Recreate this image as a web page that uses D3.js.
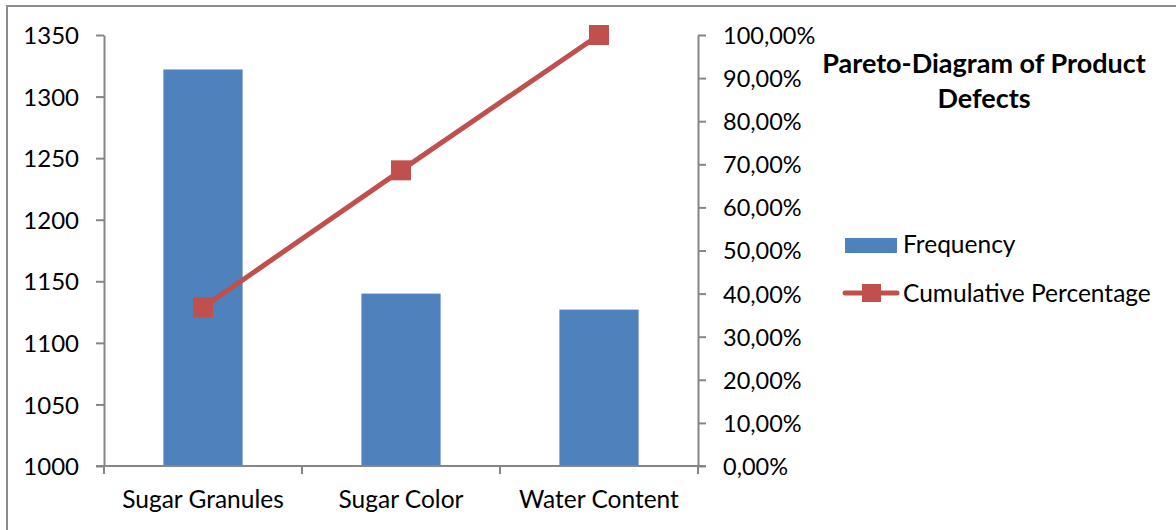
<!DOCTYPE html>
<html>
<head>
<meta charset="utf-8">
<script src="https://cdn.jsdelivr.net/npm/d3@7"></script>
<style>
  html, body { margin: 0; padding: 0; background: #fff; }
  svg { display: block; }
  text { font-family: Lato, "Open Sans", sans-serif; fill: #000; }
</style>
</head>
<body>
<svg id="chart" width="1176" height="530"></svg>
<script>
const categories = ["Sugar Granules", "Sugar Color", "Water Content"];
const frequency = [1322, 1140, 1127];
const cumulative = [0.368, 0.686, 1.0];
const leftTicks = [1000, 1050, 1100, 1150, 1200, 1250, 1300, 1350];
const rightTicks = [0, 0.1, 0.2, 0.3, 0.4, 0.5, 0.6, 0.7, 0.8, 0.9, 1.0];
const titleLines = ["Pareto-Diagram of Product", "Defects"];
const seriesNames = ["Frequency", "Cumulative Percentage"];

const barColor = "#4F81BD";
const lineColor = "#C0504D";
const axisColor = "#868686";

const svg = d3.select("#chart");

// outer frame (cropped at right/bottom)
svg.append("rect").attr("x", 7).attr("y", 6).attr("width", 1200).attr("height", 600)
  .attr("fill", "none").attr("stroke", "#8c8c8c").attr("stroke-width", 2);

const plotL = 104, plotR = 698, plotT = 35, plotB = 466;

const x = d3.scaleBand().domain(categories).range([plotL, plotR]).paddingInner(0.6).paddingOuter(0.3);
const yL = d3.scaleLinear().domain([1000, 1350]).range([plotB, plotT]);
const yR = d3.scaleLinear().domain([0, 1]).range([plotB, plotT]);

// bars
svg.append("g").selectAll("rect").data(categories).join("rect")
  .attr("x", d => x(d))
  .attr("y", (d, i) => yL(frequency[i]))
  .attr("width", x.bandwidth())
  .attr("height", (d, i) => yL(1000) - yL(frequency[i]))
  .attr("fill", barColor);

// left axis
const leftAxis = d3.axisLeft(yL).tickValues(leftTicks).tickFormat(d3.format("d"))
  .tickSize(8).tickPadding(17).tickSizeOuter(0);
const gL = svg.append("g").attr("transform", `translate(${plotL},0)`).call(leftAxis);
gL.selectAll("line").attr("stroke", axisColor).attr("stroke-width", 2);
gL.select(".domain").attr("stroke", axisColor).attr("stroke-width", 2);
gL.selectAll("text").style("font-size", "24px").attr("dy", "0.36em");

// right axis
const fmt = v => d3.format(".2f")(v * 100).replace(".", ",") + "%";
const rightAxis = d3.axisRight(yR).tickValues(rightTicks).tickFormat(fmt).tickSize(8).tickPadding(17).tickSizeOuter(0);
const gR = svg.append("g").attr("transform", `translate(${plotR},0)`).call(rightAxis);
gR.selectAll("line").attr("stroke", axisColor).attr("stroke-width", 2);
gR.select(".domain").attr("stroke", axisColor).attr("stroke-width", 2);
gR.selectAll("text").style("font-size", "23.5px").attr("dy", "0.36em");

// bottom axis (ticks between categories)
const gB = svg.append("g");
gB.append("line").attr("x1", plotL - 8).attr("x2", plotR + 8).attr("y1", plotB).attr("y2", plotB)
  .attr("stroke", axisColor).attr("stroke-width", 2);
const bounds = [plotL].concat(categories.map(c => x(c) + x.bandwidth() / 2 + x.step() / 2));
gB.selectAll("line.t").data(bounds).join("line").attr("class", "t")
  .attr("x1", d => d).attr("x2", d => d).attr("y1", plotB).attr("y2", plotB + 8)
  .attr("stroke", axisColor).attr("stroke-width", 2);
gB.selectAll("text").data(categories).join("text")
  .attr("x", d => x(d) + x.bandwidth() / 2).attr("y", 508)
  .attr("text-anchor", "middle").style("font-size", "24.5px").text(d => d);

// cumulative line
const line = d3.line().x((d, i) => x(categories[i]) + x.bandwidth() / 2).y(d => yR(d));
svg.append("path").datum(cumulative).attr("d", line)
  .attr("fill", "none").attr("stroke", lineColor).attr("stroke-width", 5);
svg.append("g").selectAll("rect").data(cumulative).join("rect")
  .attr("x", (d, i) => x(categories[i]) + x.bandwidth() / 2 - 10)
  .attr("y", d => yR(d) - 10)
  .attr("width", 20).attr("height", 20).attr("fill", lineColor);

// title
svg.append("g").selectAll("text").data(titleLines).join("text")
  .attr("x", 984).attr("y", (d, i) => 73 + i * 35)
  .attr("text-anchor", "middle").style("font-size", "27px").style("font-weight", "bold")
  .text(d => d);

// legend
const lg = svg.append("g");
lg.append("rect").attr("x", 845).attr("y", 238).attr("width", 52).attr("height", 15).attr("fill", barColor);
lg.append("text").attr("x", 903).attr("y", 253).style("font-size", "24.5px").text(seriesNames[0]);
lg.append("line").attr("x1", 845).attr("x2", 897).attr("y1", 293).attr("y2", 293)
  .attr("stroke", lineColor).attr("stroke-width", 5).attr("stroke-linecap", "round");
lg.append("rect").attr("x", 862).attr("y", 284).attr("width", 19).attr("height", 18).attr("fill", lineColor);
lg.append("text").attr("x", 903).attr("y", 302).style("font-size", "24.5px").text(seriesNames[1]);
</script>
</body>
</html>
